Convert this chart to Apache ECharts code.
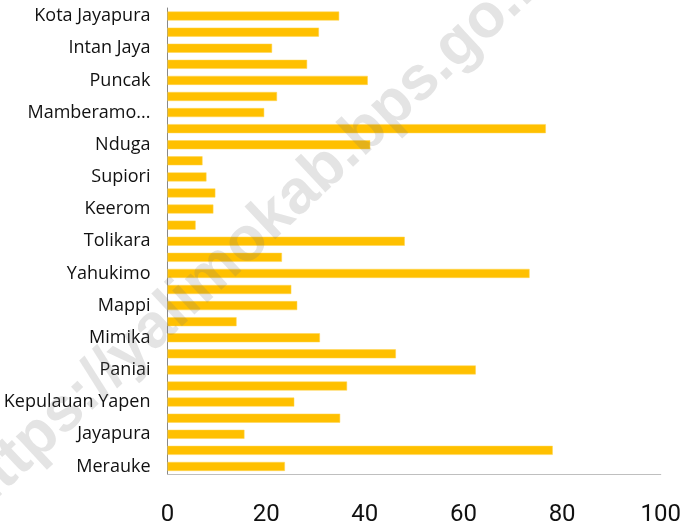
<!DOCTYPE html>
<html>
<head>
<meta charset="utf-8">
<script src="https://cdn.jsdelivr.net/npm/echarts@6/dist/echarts.min.js"></script>
<style>html,body{margin:0;padding:0;background:#fff}#c{width:684px;height:528px}</style>
</head>
<body>
<div id="c"></div>
<script>
var categories = ["Merauke","Jayawijaya","Jayapura","Nabire","Kepulauan Yapen","Biak Numfor","Paniai","Puncak Jaya","Mimika","Boven Digoel","Mappi","Asmat","Yahukimo","Pegunungan Bintang","Tolikara","Sarmi","Keerom","Waropen","Supiori","Mamberamo Raya","Nduga","Lanny Jaya","Mamberamo Tengah","Yalimo","Puncak","Dogiyai","Intan Jaya","Deiyai","Kota Jayapura"];
var values = [23.8,78.1,15.6,35.0,25.7,36.4,62.5,46.3,30.9,14.0,26.3,25.1,73.4,23.2,48.1,5.7,9.3,9.7,7.9,7.1,41.1,76.7,19.6,22.2,40.6,28.3,21.2,30.7,34.8];
var xTicks = [0,20,40,60,80,100];

var chart = echarts.init(document.getElementById('c'));
chart.setOption({
  animation: false,
  grid: {left: 167.5, right: 20, top: 8, bottom: 53.5, containLabel: false},
  xAxis: {
    type: 'value', min: xTicks[0], max: xTicks[xTicks.length-1], interval: 20,
    axisLine: {show: true, lineStyle: {color: '#bfbfbf', width: 1}},
    axisTick: {show: false},
    splitLine: {show: false},
    axisLabel: {color: '#111', fontSize: 24, fontFamily: 'Roboto', margin: 28}
  },
  yAxis: {
    type: 'category', data: categories,
    axisLine: {show: true, lineStyle: {color: '#888', width: 1}},
    axisTick: {show: false},
    axisLabel: {
      interval: 1, color: '#111', fontSize: 18, fontFamily: 'Open Sans', margin: 17,
      formatter: function (v) { return v === 'Mamberamo Tengah' ? 'Mamberamo...' : v; }
    }
  },
  series: [{
    type: 'bar', data: values, barWidth: 9,
    itemStyle: {color: '#FFC000', borderColor: '#FFD54F', borderWidth: 0.5}
  }],
  graphic: [{
    type: 'text', x: 259, y: 231, rotation: 43 * Math.PI / 180, z: 100,
    style: {
      text: 'https://yalimokab.bps.go.id', fontSize: 62, fontWeight: 'bold',
      fontFamily: 'Liberation Sans', fill: 'rgba(120,120,120,0.2)',
      align: 'center', verticalAlign: 'middle'
    }
  }]
});
</script>
</body>
</html>
